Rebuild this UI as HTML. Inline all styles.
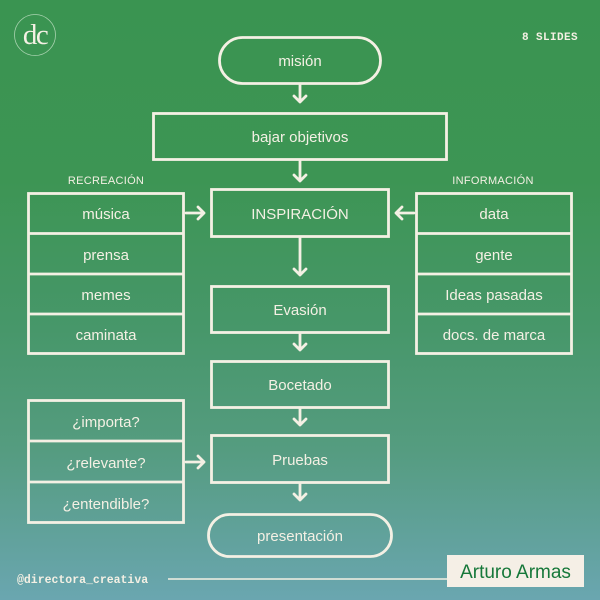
<!DOCTYPE html>
<html>
<head>
<meta charset="utf-8">
<style>
html,body{margin:0;padding:0;}
body{width:600px;height:600px;overflow:hidden;background:linear-gradient(180deg,#3a9451 0%,#3d9554 30%,#47976a 55%,#559c80 75%,#6aa6b0 100%);}
svg{display:block;}
text{font-family:"Liberation Sans",sans-serif;fill:#f4f0e4;}
</style>
</head>
<body>
<svg width="600" height="600" viewBox="0 0 600 600" xmlns="http://www.w3.org/2000/svg">
  <g fill="none" stroke="#f4f0e4" stroke-width="2.8">
    <!-- logo circle -->
    <circle cx="35" cy="35" r="20.5" stroke="#a9d3b0" stroke-width="0.8"/>
    <!-- mision pill -->
    <rect x="219.5" y="37.5" width="161" height="46" rx="23"/>
    <!-- bajar objetivos -->
    <rect x="153.5" y="113.5" width="293" height="46"/>
    <!-- inspiracion -->
    <rect x="211.5" y="189.5" width="177" height="47"/>
    <!-- evasion -->
    <rect x="211.5" y="286.5" width="177" height="46"/>
    <!-- bocetado -->
    <rect x="211.5" y="361.5" width="177" height="46"/>
    <!-- pruebas -->
    <rect x="211.5" y="435.5" width="177" height="47"/>
    <!-- presentacion pill -->
    <rect x="208.5" y="514.5" width="183" height="42" rx="21"/>
    <!-- left list -->
    <rect x="28.5" y="193.5" width="155" height="160"/>
    <line x1="28" y1="233.5" x2="184" y2="233.5"/>
    <line x1="28" y1="274" x2="184" y2="274"/>
    <line x1="28" y1="314" x2="184" y2="314"/>
    <!-- right list -->
    <rect x="416.5" y="193.5" width="155" height="160"/>
    <line x1="416" y1="233.5" x2="572" y2="233.5"/>
    <line x1="416" y1="274" x2="572" y2="274"/>
    <line x1="416" y1="314" x2="572" y2="314"/>
    <!-- question list -->
    <rect x="28.5" y="400.5" width="155" height="122"/>
    <line x1="28" y1="441" x2="184" y2="441"/>
    <line x1="28" y1="482" x2="184" y2="482"/>
    <!-- arrows vertical -->
    <g stroke-linecap="round" stroke-linejoin="round">
      <path d="M300 85 V102 M294 96 L300 102 L306 96"/>
      <path d="M300 161 V181 M294 175 L300 181 L306 175"/>
      <path d="M300 238 V275 M294 269 L300 275 L306 269"/>
      <path d="M300 334 V350 M294 344 L300 350 L306 344"/>
      <path d="M300 409 V425 M294 419 L300 425 L306 419"/>
      <path d="M300 484 V500 M294 494 L300 500 L306 494"/>
      <!-- horizontal arrows -->
      <path d="M186 213 H204 M198 207 L204 213 L198 219"/>
      <path d="M414 213 H396 M402 207 L396 213 L402 219"/>
      <path d="M186 462 H204 M198 456 L204 462 L198 468"/>
    </g>
    <!-- footer line -->
    <line x1="168" y1="579" x2="448" y2="579" stroke-width="1.5"/>
  </g>

  <!-- logo -->
  <text x="35" y="44" text-anchor="middle" style="font-family:'Liberation Serif',serif;font-size:29px;letter-spacing:-1.5px;">dc</text>
  <!-- 8 slides -->
  <text x="550" y="40" text-anchor="middle" style="font-family:'Liberation Mono',monospace;font-size:11px;font-weight:bold;letter-spacing:0.4px;">8 SLIDES</text>

  <g text-anchor="middle" style="font-size:15px;">
    <text x="300" y="66">misión</text>
    <text x="300" y="142">bajar objetivos</text>
    <text x="300" y="219">INSPIRACIÓN</text>
    <text x="300" y="315">Evasión</text>
    <text x="300" y="390">Bocetado</text>
    <text x="300" y="465">Pruebas</text>
    <text x="300" y="541">presentación</text>

    <text x="106" y="219">música</text>
    <text x="106" y="260">prensa</text>
    <text x="106" y="300">memes</text>
    <text x="106" y="340">caminata</text>

    <text x="494" y="219">data</text>
    <text x="494" y="260">gente</text>
    <text x="494" y="300">Ideas pasadas</text>
    <text x="494" y="340">docs. de marca</text>

    <text x="106" y="427">¿importa?</text>
    <text x="106" y="468">¿relevante?</text>
    <text x="106" y="509">¿entendible?</text>
  </g>

  <g text-anchor="middle" style="font-size:11px;letter-spacing:0.3px;">
    <text x="106" y="184">RECREACIÓN</text>
    <text x="493" y="184">INFORMACIÓN</text>
  </g>

  <text x="17" y="583" style="font-family:'Liberation Mono',monospace;font-size:11.5px;font-weight:bold;">@directora_creativa</text>

  <rect x="447" y="555" width="137" height="32" fill="#f5efe6"/>
  <text x="515.5" y="578" text-anchor="middle" style="font-size:19px;fill:#17783a;">Arturo Armas</text>
</svg>
</body>
</html>
